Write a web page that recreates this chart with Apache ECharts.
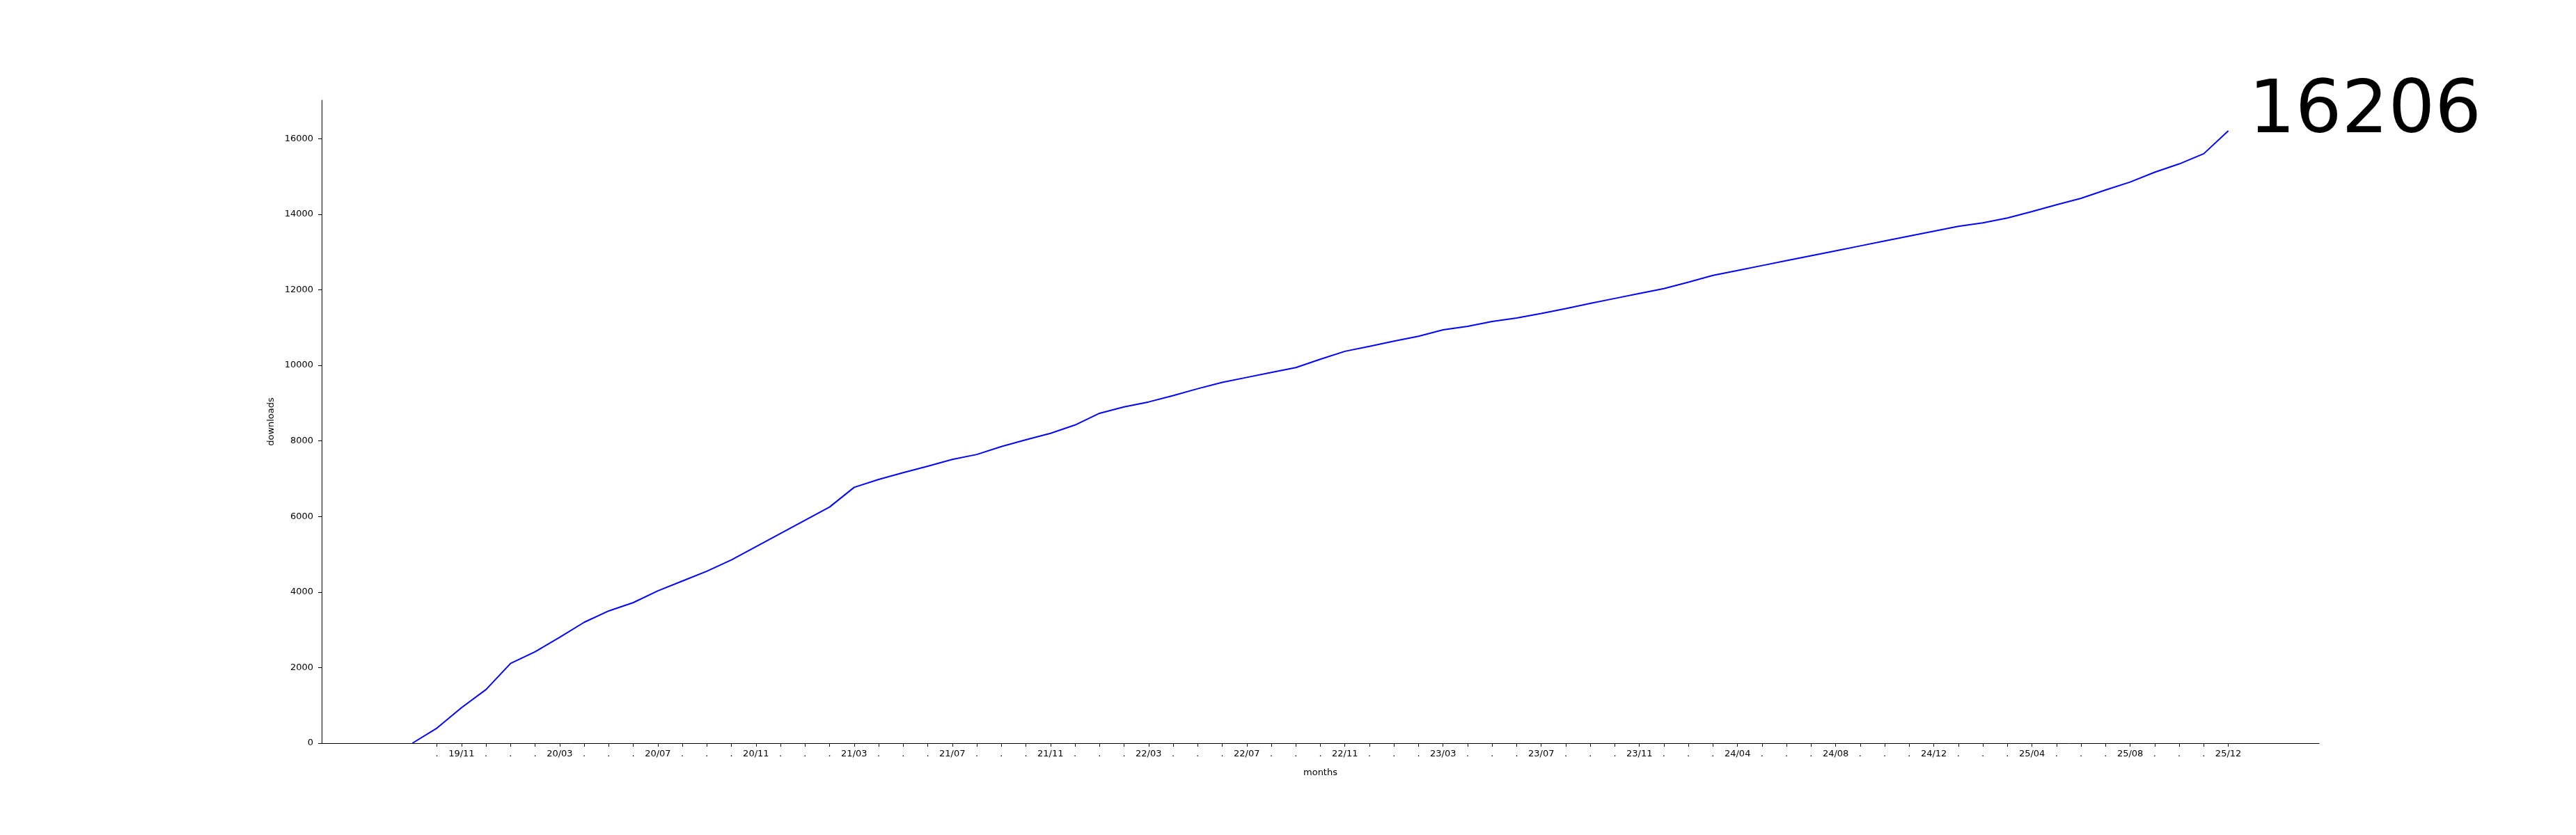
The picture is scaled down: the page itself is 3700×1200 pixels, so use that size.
<!DOCTYPE html>
<html>
<head>
<meta charset="utf-8">
<script src="https://cdn.jsdelivr.net/npm/echarts@6/dist/echarts.min.js"></script>
<style>
  html, body { margin: 0; padding: 0; background: #fff; }
  #main { width: 3700px; height: 1200px; }
</style>
</head>
<body>
<div id="main"></div>
<script>
// cumulative downloads, one point per month (first point has no tick)
const downloads = [
  0, 400, 940, 1420, 2110, 2420, 2800, 3200, 3500, 3720,
  4030, 4290, 4550, 4850, 5200, 5550, 5900, 6250, 6770, 6980,
  7160, 7330, 7510, 7640, 7850, 8030, 8200, 8420, 8730, 8900,
  9030, 9200, 9380, 9550, 9680, 9810, 9940, 10160, 10370, 10500,
  10640, 10770, 10940, 11030, 11160, 11250, 11370, 11500, 11640, 11770,
  11900, 12030, 12200, 12380, 12510, 12640, 12770, 12900, 13030, 13160,
  13290, 13420, 13550, 13680, 13770, 13900, 14070, 14250, 14420, 14640,
  14850, 15110, 15330, 15600, 16206
];
// every 4th tick gets a month label, the others show '.'
const majorLabels = [
  '19/11', '20/03', '20/07', '20/11', '21/03', '21/07', '21/11', '22/03',
  '22/07', '22/11', '23/03', '23/07', '23/11', '24/04', '24/08', '24/12',
  '25/04', '25/08', '25/12'
];
const yTicks = [0, 2000, 4000, 6000, 8000, 10000, 12000, 14000, 16000];

const total = downloads[downloads.length - 1];
const tickPos = [];
for (let i = 1; i < downloads.length; i++) tickPos.push(i);

const tickLabel = (v) => {
  if ((v - 2) % 4 === 0) return majorLabels[(v - 2) / 4];
  return '.';
};

const font = 'DejaVu Sans';
const chart = echarts.init(document.getElementById('main'), null, { renderer: 'canvas' });

const option = {
  animation: false,
  backgroundColor: '#fff',
  textStyle: { fontFamily: font },
  grid: { left: 462, right: 369, top: 144, bottom: 132 },
  xAxis: {
    type: 'value',
    min: -3.7,
    max: downloads.length - 1 + 3.7,
    name: 'months',
    nameLocation: 'middle',
    nameGap: 36,
    nameTextStyle: { fontFamily: font, fontSize: 13, color: '#000' },
    axisLine: { onZero: false, lineStyle: { color: '#000', width: 1 } },
    axisTick: { customValues: tickPos, length: 5, lineStyle: { color: '#000', width: 1 } },
    axisLabel: {
      customValues: tickPos,
      formatter: tickLabel,
      fontFamily: font, fontSize: 13, color: '#000', margin: 9
    },
    splitLine: { show: false }
  },
  yAxis: {
    type: 'value',
    min: 0,
    max: 17016,
    name: 'downloads',
    nameLocation: 'middle',
    nameGap: 66,
    nameTextStyle: { fontFamily: font, fontSize: 13, color: '#000' },
    axisLine: { show: true, onZero: false, lineStyle: { color: '#000', width: 1 } },
    axisTick: { show: true, customValues: yTicks, length: 5, lineStyle: { color: '#000', width: 1 } },
    axisLabel: {
      customValues: yTicks,
      formatter: (v) => String(v),
      fontFamily: font, fontSize: 13, color: '#000', margin: 12
    },
    splitLine: { show: false }
  },
  graphic: [
    {
      type: 'text',
      left: 3230,
      top: 110,
      style: { text: String(total), font: '105px "DejaVu Sans"', fill: '#000' }
    }
  ],
  series: [
    {
      type: 'line',
      data: downloads.map((v, i) => [i, v]),
      showSymbol: false,
      lineStyle: { color: '#0000ff', width: 2 },
      itemStyle: { color: '#0000ff' }
    }
  ]
};

chart.setOption(option);
</script>
</body>
</html>
